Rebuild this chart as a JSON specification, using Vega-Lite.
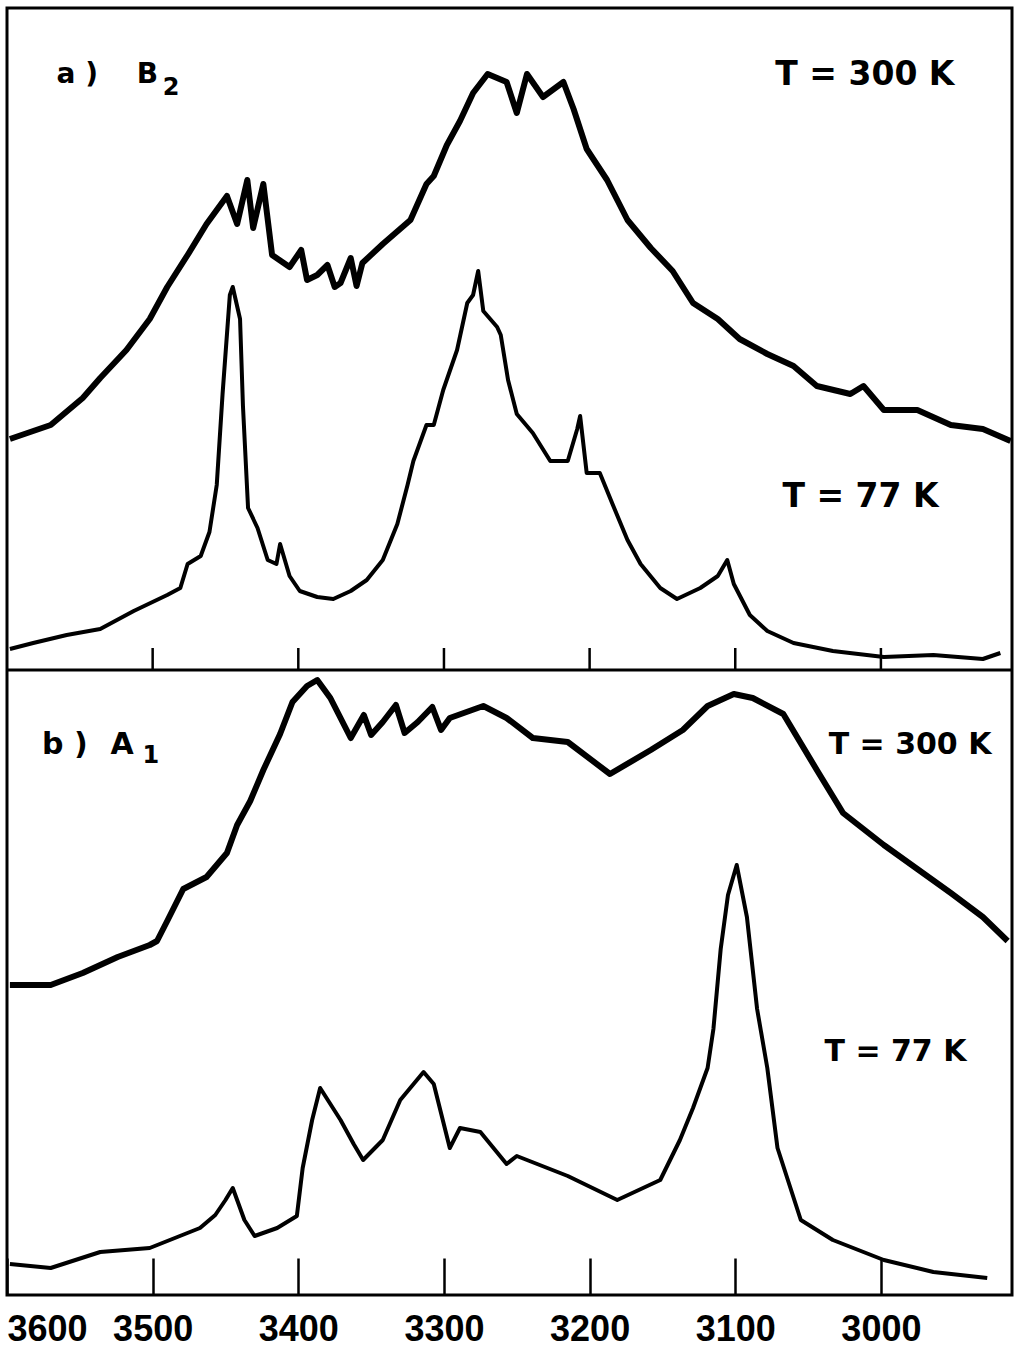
{
  "$schema": "https://vega.github.io/schema/vega-lite/v6.json",
  "padding": {"left": 5, "top": 8, "right": 0, "bottom": 0},
  "background": "white",
  "width": 1005,
  "height": 1287,
  "config": {
    "view": {"stroke": "black", "strokeWidth": 3},
    "axis": {"grid": false, "domain": false, "tickColor": "black", "labelColor": "black", "labelFont": "Liberation Sans", "labelFontWeight": "bold", "labelFontSize": 36, "title": null, "format": "d"}
  },
  "resolve": {"scale": {"y": "independent"}, "axis": {"y": "independent"}},
  "datasets": {
    "top": [
      {"wn": 3598, "I": 231, "T": "300 K"}, {"wn": 3570, "I": 245, "T": "300 K"}, {"wn": 3548, "I": 272, "T": "300 K"},
      {"wn": 3536, "I": 292, "T": "300 K"}, {"wn": 3518, "I": 320, "T": "300 K"}, {"wn": 3502, "I": 351, "T": "300 K"},
      {"wn": 3490, "I": 383, "T": "300 K"}, {"wn": 3476, "I": 415, "T": "300 K"}, {"wn": 3463, "I": 446, "T": "300 K"},
      {"wn": 3449, "I": 474, "T": "300 K"}, {"wn": 3442, "I": 446, "T": "300 K"}, {"wn": 3435, "I": 490, "T": "300 K"},
      {"wn": 3431, "I": 442, "T": "300 K"}, {"wn": 3424, "I": 486, "T": "300 K"}, {"wn": 3418, "I": 415, "T": "300 K"},
      {"wn": 3406, "I": 403, "T": "300 K"}, {"wn": 3398, "I": 420, "T": "300 K"}, {"wn": 3394, "I": 390, "T": "300 K"},
      {"wn": 3387, "I": 395, "T": "300 K"}, {"wn": 3380, "I": 405, "T": "300 K"}, {"wn": 3375, "I": 383, "T": "300 K"},
      {"wn": 3371, "I": 387, "T": "300 K"}, {"wn": 3364, "I": 412, "T": "300 K"}, {"wn": 3360, "I": 384, "T": "300 K"},
      {"wn": 3356, "I": 407, "T": "300 K"}, {"wn": 3342, "I": 426, "T": "300 K"}, {"wn": 3323, "I": 450, "T": "300 K"},
      {"wn": 3312, "I": 486, "T": "300 K"}, {"wn": 3307, "I": 494, "T": "300 K"}, {"wn": 3298, "I": 525, "T": "300 K"},
      {"wn": 3289, "I": 549, "T": "300 K"}, {"wn": 3280, "I": 577, "T": "300 K"}, {"wn": 3270, "I": 596, "T": "300 K"},
      {"wn": 3257, "I": 588, "T": "300 K"}, {"wn": 3250, "I": 557, "T": "300 K"}, {"wn": 3243, "I": 596, "T": "300 K"},
      {"wn": 3232, "I": 573, "T": "300 K"}, {"wn": 3218, "I": 588, "T": "300 K"}, {"wn": 3211, "I": 561, "T": "300 K"},
      {"wn": 3202, "I": 521, "T": "300 K"}, {"wn": 3188, "I": 490, "T": "300 K"}, {"wn": 3174, "I": 450, "T": "300 K"},
      {"wn": 3158, "I": 422, "T": "300 K"}, {"wn": 3143, "I": 399, "T": "300 K"}, {"wn": 3129, "I": 367, "T": "300 K"},
      {"wn": 3112, "I": 351, "T": "300 K"}, {"wn": 3097, "I": 331, "T": "300 K"}, {"wn": 3078, "I": 316, "T": "300 K"},
      {"wn": 3060, "I": 304, "T": "300 K"}, {"wn": 3044, "I": 284, "T": "300 K"}, {"wn": 3021, "I": 276, "T": "300 K"},
      {"wn": 3012, "I": 284, "T": "300 K"}, {"wn": 2998, "I": 260, "T": "300 K"}, {"wn": 2975, "I": 260, "T": "300 K"},
      {"wn": 2952, "I": 245, "T": "300 K"}, {"wn": 2930, "I": 241, "T": "300 K"}, {"wn": 2911, "I": 229, "T": "300 K"},
      {"wn": 3598, "I": 21, "T": "77 K"}, {"wn": 3582, "I": 27, "T": "77 K"}, {"wn": 3559, "I": 35, "T": "77 K"},
      {"wn": 3536, "I": 41, "T": "77 K"}, {"wn": 3513, "I": 59, "T": "77 K"}, {"wn": 3490, "I": 75, "T": "77 K"},
      {"wn": 3481, "I": 82, "T": "77 K"}, {"wn": 3476, "I": 106, "T": "77 K"}, {"wn": 3467, "I": 114, "T": "77 K"},
      {"wn": 3461, "I": 138, "T": "77 K"}, {"wn": 3456, "I": 185, "T": "77 K"}, {"wn": 3452, "I": 276, "T": "77 K"},
      {"wn": 3447, "I": 375, "T": "77 K"}, {"wn": 3445, "I": 383, "T": "77 K"}, {"wn": 3440, "I": 351, "T": "77 K"},
      {"wn": 3438, "I": 264, "T": "77 K"}, {"wn": 3434.5, "I": 162, "T": "77 K"}, {"wn": 3428, "I": 142, "T": "77 K"},
      {"wn": 3421, "I": 110, "T": "77 K"}, {"wn": 3415, "I": 106, "T": "77 K"}, {"wn": 3412.5, "I": 126, "T": "77 K"},
      {"wn": 3406, "I": 94, "T": "77 K"}, {"wn": 3399, "I": 79, "T": "77 K"}, {"wn": 3387, "I": 73, "T": "77 K"},
      {"wn": 3376, "I": 71, "T": "77 K"}, {"wn": 3364, "I": 79, "T": "77 K"}, {"wn": 3353, "I": 90, "T": "77 K"},
      {"wn": 3342, "I": 110, "T": "77 K"}, {"wn": 3332, "I": 146, "T": "77 K"}, {"wn": 3325, "I": 185, "T": "77 K"},
      {"wn": 3321, "I": 209, "T": "77 K"}, {"wn": 3312, "I": 245, "T": "77 K"}, {"wn": 3307, "I": 245, "T": "77 K"},
      {"wn": 3300.5, "I": 280, "T": "77 K"}, {"wn": 3291, "I": 320, "T": "77 K"}, {"wn": 3284, "I": 367, "T": "77 K"},
      {"wn": 3280, "I": 375, "T": "77 K"}, {"wn": 3276.5, "I": 399, "T": "77 K"}, {"wn": 3273, "I": 359, "T": "77 K"},
      {"wn": 3263.5, "I": 343, "T": "77 K"}, {"wn": 3261, "I": 335, "T": "77 K"}, {"wn": 3256, "I": 290, "T": "77 K"},
      {"wn": 3250, "I": 256, "T": "77 K"}, {"wn": 3239, "I": 237, "T": "77 K"}, {"wn": 3227, "I": 209, "T": "77 K"},
      {"wn": 3215, "I": 209, "T": "77 K"}, {"wn": 3208.5, "I": 241, "T": "77 K"}, {"wn": 3206.5, "I": 254, "T": "77 K"},
      {"wn": 3202, "I": 197, "T": "77 K"}, {"wn": 3193, "I": 197, "T": "77 K"}, {"wn": 3184, "I": 165, "T": "77 K"},
      {"wn": 3174, "I": 130, "T": "77 K"}, {"wn": 3165, "I": 106, "T": "77 K"}, {"wn": 3151.5, "I": 82, "T": "77 K"},
      {"wn": 3140, "I": 71, "T": "77 K"}, {"wn": 3124, "I": 82, "T": "77 K"}, {"wn": 3112, "I": 94, "T": "77 K"},
      {"wn": 3105.5, "I": 110, "T": "77 K"}, {"wn": 3101, "I": 86, "T": "77 K"}, {"wn": 3090, "I": 55, "T": "77 K"},
      {"wn": 3078, "I": 39, "T": "77 K"}, {"wn": 3060, "I": 27, "T": "77 K"}, {"wn": 3033, "I": 19, "T": "77 K"},
      {"wn": 2998, "I": 13, "T": "77 K"}, {"wn": 2964, "I": 15, "T": "77 K"}, {"wn": 2930, "I": 11, "T": "77 K"},
      {"wn": 2918, "I": 17, "T": "77 K"}
    ],
    "bottom": [
      {"wn": 3598, "I": 310, "T": "300 K"}, {"wn": 3570, "I": 310, "T": "300 K"}, {"wn": 3548, "I": 322, "T": "300 K"},
      {"wn": 3524, "I": 338, "T": "300 K"}, {"wn": 3502, "I": 350, "T": "300 K"}, {"wn": 3497, "I": 354, "T": "300 K"},
      {"wn": 3490, "I": 374, "T": "300 K"}, {"wn": 3479, "I": 406, "T": "300 K"}, {"wn": 3463, "I": 418, "T": "300 K"},
      {"wn": 3449, "I": 442, "T": "300 K"}, {"wn": 3442, "I": 470, "T": "300 K"}, {"wn": 3433, "I": 494, "T": "300 K"},
      {"wn": 3424, "I": 525, "T": "300 K"}, {"wn": 3412.5, "I": 561, "T": "300 K"}, {"wn": 3404, "I": 593, "T": "300 K"},
      {"wn": 3394, "I": 609, "T": "300 K"}, {"wn": 3387, "I": 615, "T": "300 K"}, {"wn": 3378, "I": 597, "T": "300 K"},
      {"wn": 3364, "I": 557, "T": "300 K"}, {"wn": 3355, "I": 580, "T": "300 K"}, {"wn": 3350, "I": 560, "T": "300 K"},
      {"wn": 3342, "I": 573, "T": "300 K"}, {"wn": 3333, "I": 590, "T": "300 K"}, {"wn": 3327, "I": 562, "T": "300 K"},
      {"wn": 3318, "I": 573, "T": "300 K"}, {"wn": 3308, "I": 588, "T": "300 K"}, {"wn": 3302, "I": 565, "T": "300 K"},
      {"wn": 3296, "I": 577, "T": "300 K"}, {"wn": 3273, "I": 589, "T": "300 K"}, {"wn": 3257, "I": 577, "T": "300 K"},
      {"wn": 3239, "I": 557, "T": "300 K"}, {"wn": 3215, "I": 553, "T": "300 K"}, {"wn": 3186, "I": 521, "T": "300 K"},
      {"wn": 3158, "I": 545, "T": "300 K"}, {"wn": 3136, "I": 565, "T": "300 K"}, {"wn": 3119, "I": 589, "T": "300 K"},
      {"wn": 3101, "I": 601, "T": "300 K"}, {"wn": 3088, "I": 597, "T": "300 K"}, {"wn": 3067, "I": 581, "T": "300 K"},
      {"wn": 3044, "I": 525, "T": "300 K"}, {"wn": 3026, "I": 482, "T": "300 K"}, {"wn": 2998, "I": 450, "T": "300 K"},
      {"wn": 2975, "I": 426, "T": "300 K"}, {"wn": 2952, "I": 402, "T": "300 K"}, {"wn": 2930, "I": 378, "T": "300 K"},
      {"wn": 2913, "I": 354, "T": "300 K"},
      {"wn": 3598, "I": 31, "T": "77 K"}, {"wn": 3570, "I": 27, "T": "77 K"}, {"wn": 3536, "I": 43, "T": "77 K"},
      {"wn": 3502, "I": 47, "T": "77 K"}, {"wn": 3467.5, "I": 67, "T": "77 K"}, {"wn": 3457, "I": 80, "T": "77 K"},
      {"wn": 3450, "I": 95, "T": "77 K"}, {"wn": 3445, "I": 107, "T": "77 K"}, {"wn": 3437, "I": 75, "T": "77 K"},
      {"wn": 3430, "I": 59, "T": "77 K"}, {"wn": 3414.5, "I": 67, "T": "77 K"}, {"wn": 3401, "I": 79, "T": "77 K"},
      {"wn": 3397, "I": 127, "T": "77 K"}, {"wn": 3390.5, "I": 175, "T": "77 K"}, {"wn": 3385, "I": 207, "T": "77 K"},
      {"wn": 3371, "I": 175, "T": "77 K"}, {"wn": 3362, "I": 151, "T": "77 K"}, {"wn": 3355.5, "I": 135, "T": "77 K"},
      {"wn": 3342, "I": 155, "T": "77 K"}, {"wn": 3330, "I": 195, "T": "77 K"}, {"wn": 3314, "I": 223, "T": "77 K"},
      {"wn": 3307, "I": 211, "T": "77 K"}, {"wn": 3296, "I": 147, "T": "77 K"}, {"wn": 3289, "I": 167, "T": "77 K"},
      {"wn": 3275, "I": 163, "T": "77 K"}, {"wn": 3257, "I": 131, "T": "77 K"}, {"wn": 3250, "I": 139, "T": "77 K"},
      {"wn": 3215, "I": 119, "T": "77 K"}, {"wn": 3181, "I": 95, "T": "77 K"}, {"wn": 3151.5, "I": 115, "T": "77 K"},
      {"wn": 3138, "I": 155, "T": "77 K"}, {"wn": 3129, "I": 187, "T": "77 K"}, {"wn": 3119, "I": 227, "T": "77 K"},
      {"wn": 3115, "I": 266, "T": "77 K"}, {"wn": 3110, "I": 346, "T": "77 K"}, {"wn": 3105, "I": 400, "T": "77 K"},
      {"wn": 3099, "I": 430, "T": "77 K"}, {"wn": 3092, "I": 378, "T": "77 K"}, {"wn": 3085, "I": 286, "T": "77 K"},
      {"wn": 3078, "I": 227, "T": "77 K"}, {"wn": 3071, "I": 147, "T": "77 K"}, {"wn": 3055, "I": 75, "T": "77 K"},
      {"wn": 3033, "I": 55, "T": "77 K"}, {"wn": 2998, "I": 35, "T": "77 K"}, {"wn": 2964, "I": 23, "T": "77 K"},
      {"wn": 2927, "I": 17, "T": "77 K"}
    ],
    "ticks": [{"wn": 3500}, {"wn": 3400}, {"wn": 3300}, {"wn": 3200}, {"wn": 3100}, {"wn": 3000}],
    "labelsTop": [
      {"wn": 3566, "I": 595, "t": "a )", "kind": "main"},
      {"wn": 3511, "I": 595, "t": "B", "kind": "main"},
      {"wn": 3493, "I": 582, "t": "2", "kind": "sub"},
      {"wn": 3011, "I": 595, "t": "T = 300 K", "kind": "temp"},
      {"wn": 3014, "I": 173, "t": "T = 77 K", "kind": "temp"}
    ],
    "labelsBottom": [
      {"wn": 3576, "I": 550, "t": "b )", "kind": "main"},
      {"wn": 3529, "I": 550, "t": "A", "kind": "main"},
      {"wn": 3507, "I": 539, "t": "1", "kind": "sub"},
      {"wn": 2980, "I": 550, "t": "T = 300 K", "kind": "temp"},
      {"wn": 2990, "I": 243, "t": "T = 77 K", "kind": "temp"}
    ]
  },
  "layer": [
    {
      "data": {"name": "bottom"},
      "mark": {"type": "line", "color": "black", "strokeJoin": "round"},
      "encoding": {
        "x": {"field": "wn", "type": "quantitative", "scale": {"domain": [2910, 3600], "reverse": true, "nice": false, "zero": false},
              "axis": {"values": [3600, 3500, 3400, 3300, 3200, 3100, 3000], "tickSize": -37, "tickWidth": 2.5, "labelPadding": 54}},
        "y": {"field": "I", "type": "quantitative", "scale": {"domain": [0, 1287], "nice": false, "zero": false}, "axis": null},
        "detail": {"field": "T"},
        "strokeWidth": {"field": "T", "type": "nominal", "scale": {"domain": ["300 K", "77 K"], "range": [6, 4]}, "legend": null}
      }
    },
    {
      "data": {"name": "top"},
      "mark": {"type": "line", "color": "black", "strokeJoin": "round"},
      "encoding": {
        "x": {"field": "wn", "type": "quantitative"},
        "y": {"field": "I", "type": "quantitative", "scale": {"domain": [-625, 662], "nice": false, "zero": false}, "axis": null},
        "detail": {"field": "T"},
        "strokeWidth": {"field": "T", "type": "nominal", "scale": {"domain": ["300 K", "77 K"], "range": [6, 4]}, "legend": null}
      }
    },
    {
      "data": {"values": [{"I": 0}]},
      "mark": {"type": "rule", "color": "black", "strokeWidth": 3},
      "encoding": {
        "y": {"field": "I", "type": "quantitative", "scale": {"domain": [-625, 662], "nice": false, "zero": false}, "axis": null}
      }
    },
    {
      "data": {"name": "ticks"},
      "mark": {"type": "rule", "color": "black", "strokeWidth": 2.5},
      "encoding": {
        "x": {"field": "wn", "type": "quantitative"},
        "y": {"datum": 0, "type": "quantitative", "scale": {"domain": [-625, 662], "nice": false, "zero": false}, "axis": null},
        "y2": {"datum": 22}
      }
    },
    {
      "data": {"name": "labelsTop"},
      "transform": [{"filter": "datum.kind == 'main'"}],
      "mark": {"type": "text", "align": "left", "baseline": "middle", "font": "DejaVu Sans", "fontWeight": "bold", "fontSize": 28, "color": "black"},
      "encoding": {"x": {"field": "wn", "type": "quantitative"}, "y": {"field": "I", "type": "quantitative", "scale": {"domain": [-625, 662], "nice": false, "zero": false}, "axis": null}, "text": {"field": "t"}}
    },
    {
      "data": {"name": "labelsTop"},
      "transform": [{"filter": "datum.kind == 'sub'"}],
      "mark": {"type": "text", "align": "left", "baseline": "middle", "font": "DejaVu Sans", "fontWeight": "bold", "fontSize": 24, "color": "black"},
      "encoding": {"x": {"field": "wn", "type": "quantitative"}, "y": {"field": "I", "type": "quantitative", "scale": {"domain": [-625, 662], "nice": false, "zero": false}, "axis": null}, "text": {"field": "t"}}
    },
    {
      "data": {"name": "labelsTop"},
      "transform": [{"filter": "datum.kind == 'temp'"}],
      "mark": {"type": "text", "align": "center", "baseline": "middle", "font": "DejaVu Sans", "fontWeight": "bold", "fontSize": 33, "color": "black"},
      "encoding": {"x": {"field": "wn", "type": "quantitative"}, "y": {"field": "I", "type": "quantitative", "scale": {"domain": [-625, 662], "nice": false, "zero": false}, "axis": null}, "text": {"field": "t"}}
    },
    {
      "data": {"name": "labelsBottom"},
      "transform": [{"filter": "datum.kind == 'main'"}],
      "mark": {"type": "text", "align": "left", "baseline": "middle", "font": "DejaVu Sans", "fontWeight": "bold", "fontSize": 30, "color": "black"},
      "encoding": {"x": {"field": "wn", "type": "quantitative"}, "y": {"field": "I", "type": "quantitative", "scale": {"domain": [0, 1287], "nice": false, "zero": false}, "axis": null}, "text": {"field": "t"}}
    },
    {
      "data": {"name": "labelsBottom"},
      "transform": [{"filter": "datum.kind == 'sub'"}],
      "mark": {"type": "text", "align": "left", "baseline": "middle", "font": "DejaVu Sans", "fontWeight": "bold", "fontSize": 24, "color": "black"},
      "encoding": {"x": {"field": "wn", "type": "quantitative"}, "y": {"field": "I", "type": "quantitative", "scale": {"domain": [0, 1287], "nice": false, "zero": false}, "axis": null}, "text": {"field": "t"}}
    },
    {
      "data": {"name": "labelsBottom"},
      "transform": [{"filter": "datum.kind == 'temp'"}],
      "mark": {"type": "text", "align": "center", "baseline": "middle", "font": "DejaVu Sans", "fontWeight": "bold", "fontSize": 30, "color": "black"},
      "encoding": {"x": {"field": "wn", "type": "quantitative"}, "y": {"field": "I", "type": "quantitative", "scale": {"domain": [0, 1287], "nice": false, "zero": false}, "axis": null}, "text": {"field": "t"}}
    }
  ]
}
